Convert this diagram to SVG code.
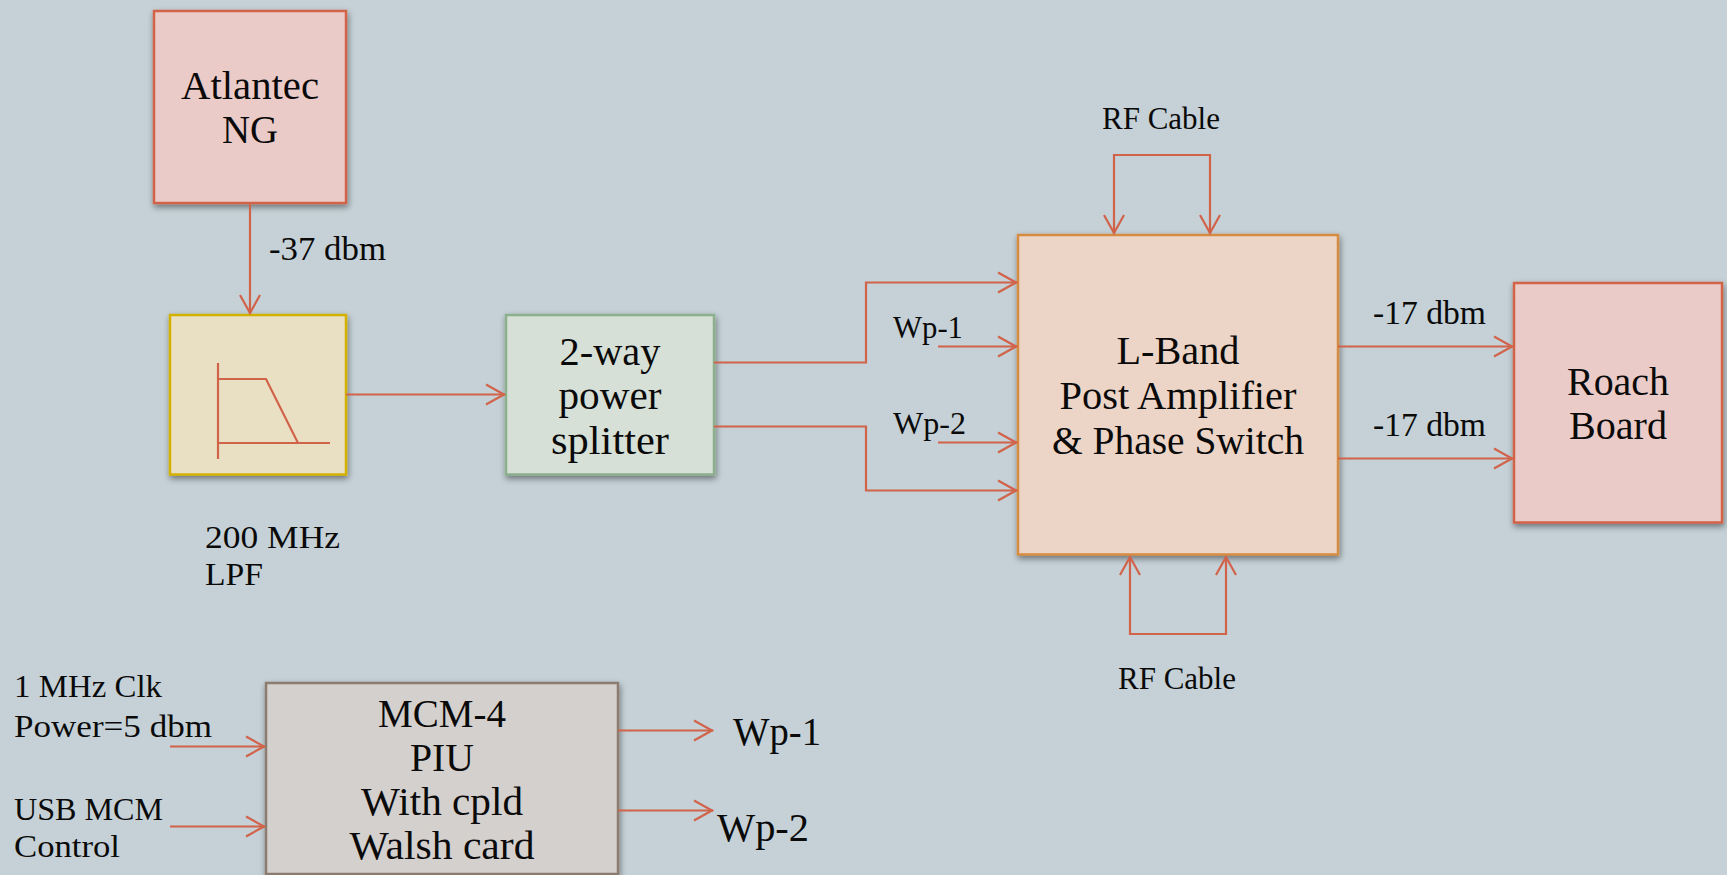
<svg xmlns="http://www.w3.org/2000/svg" width="1727" height="875" viewBox="0 0 1727 875">
<style>
text{font-family:"Liberation Serif","DejaVu Serif",serif;fill:#0a0a0a}
.n{font-size:39px;text-anchor:middle}
.m{font-size:39px}
.s{font-size:33px}
.x{font-size:31px}
.b{stroke-width:2.5;filter:url(#sh)}
.c{fill:none;stroke:#d1634a;stroke-width:2.2;marker-end:url(#a)}
.i{fill:none;stroke:#d1634a;stroke-width:2.2}
</style>
<defs>
<filter id="sh" x="-10%" y="-10%" width="125%" height="125%"><feDropShadow dx="1" dy="3" stdDeviation="3" flood-color="#000" flood-opacity=".45"/></filter>
<marker id="a" markerUnits="userSpaceOnUse" markerWidth="24" markerHeight="26" refX="20" refY="11" orient="auto" overflow="visible"><path d="M1 1L19 11L1 21" fill="none" stroke="#d1634a" stroke-width="2.2"/></marker>
</defs>
<rect id="background" width="1727" height="875" fill="#c5d1d7"/>
<g id="atlantec"><rect class="b" x="154" y="11" width="192" height="192" fill="#ebcbc8" stroke="#d1634a"/><text class="n" x="250" y="99" textLength="138" lengthAdjust="spacingAndGlyphs">Atlantec</text><text class="n" x="250" y="143" textLength="56" lengthAdjust="spacingAndGlyphs">NG</text></g>
<g id="lpf"><rect class="b" x="170" y="315" width="176" height="159.500" fill="#e9e0c3" stroke="#d2b100"/><path class="i" d="M218 363V459M218 379H266L298 443M218 443H330"/><text class="x" x="205" y="548" textLength="135" lengthAdjust="spacingAndGlyphs">200 MHz</text><text class="x" x="205" y="585" textLength="58" lengthAdjust="spacingAndGlyphs">LPF</text></g>
<g id="splitter"><rect class="b" x="506" y="315" width="208" height="159.500" fill="#d6e0d6" stroke="#8caf8c"/><text class="n" x="610" y="365" textLength="101" lengthAdjust="spacingAndGlyphs">2-way</text><text class="n" x="610" y="409" textLength="103" lengthAdjust="spacingAndGlyphs">power</text><text class="n" x="610" y="454" textLength="118" lengthAdjust="spacingAndGlyphs">splitter</text></g>
<g id="lband"><rect class="b" x="1018" y="235" width="320" height="319.500" fill="#ecd5c6" stroke="#d58b42"/><text class="n" x="1178" y="364" textLength="123" lengthAdjust="spacingAndGlyphs">L-Band</text><text class="n" x="1178" y="409" textLength="237" lengthAdjust="spacingAndGlyphs">Post Amplifier</text><text class="n" x="1178" y="454" textLength="252" lengthAdjust="spacingAndGlyphs">&amp; Phase Switch</text></g>
<g id="roach"><rect class="b" x="1514" y="283" width="208" height="239.500" fill="#ebcbc8" stroke="#d1634a"/><text class="n" x="1618" y="395" textLength="102" lengthAdjust="spacingAndGlyphs">Roach</text><text class="n" x="1618" y="439" textLength="98" lengthAdjust="spacingAndGlyphs">Board</text></g>
<g id="mcm"><rect class="b" x="266" y="683" width="352" height="191" fill="#d4d0cd" stroke="#8c7b70"/><text class="n" x="442" y="727" textLength="128" lengthAdjust="spacingAndGlyphs">MCM-4</text><text class="n" x="442" y="771" textLength="64" lengthAdjust="spacingAndGlyphs">PIU</text><text class="n" x="442" y="815" textLength="162" lengthAdjust="spacingAndGlyphs">With cpld</text><text class="n" x="442" y="859" textLength="185" lengthAdjust="spacingAndGlyphs">Walsh card</text></g>
<g id="connectors">
<path class="c" d="M250 203V314"/>
<path class="c" d="M346 394.500H505"/>
<path class="c" d="M714 362.500H866V282.500H1017"/>
<path class="c" d="M714 426.500H866V490.500H1017"/>
<path class="c" d="M938 346.500H1017"/>
<path class="c" d="M938 442.500H1017"/>
<path class="c" d="M1338 346.500H1513"/>
<path class="c" d="M1338 458.500H1513"/>
<path class="c" d="M1162 155H1114V234"/>
<path class="c" d="M1162 155H1210V234"/>
<path class="c" d="M1178 634H1130V556"/>
<path class="c" d="M1178 634H1226V556"/>
<path class="c" d="M170 746.500H265"/>
<path class="c" d="M170 826.500H265"/>
<path class="c" d="M618 730.500H713"/>
<path class="c" d="M618 810.500H713"/>
</g>
<g id="labels">
<text class="s" x="269" y="260" textLength="117" lengthAdjust="spacingAndGlyphs">-37 dbm</text>
<text class="x" x="893" y="338" textLength="70" lengthAdjust="spacingAndGlyphs">Wp-1</text>
<text class="x" x="893" y="434" textLength="73" lengthAdjust="spacingAndGlyphs">Wp-2</text>
<text class="x" x="1102" y="129" textLength="118" lengthAdjust="spacingAndGlyphs">RF Cable</text>
<text class="x" x="1118" y="689" textLength="118" lengthAdjust="spacingAndGlyphs">RF Cable</text>
<text class="s" x="1373" y="324" textLength="113" lengthAdjust="spacingAndGlyphs">-17 dbm</text>
<text class="s" x="1373" y="436" textLength="113" lengthAdjust="spacingAndGlyphs">-17 dbm</text>
<text class="x" x="14" y="697" textLength="148" lengthAdjust="spacingAndGlyphs">1 MHz Clk</text>
<text class="x" x="14" y="737" textLength="198" lengthAdjust="spacingAndGlyphs">Power=5 dbm</text>
<text class="x" x="14" y="820" textLength="149" lengthAdjust="spacingAndGlyphs">USB MCM</text>
<text class="x" x="14" y="857" textLength="106" lengthAdjust="spacingAndGlyphs">Control</text>
<text class="m" x="733" y="745" textLength="88" lengthAdjust="spacingAndGlyphs">Wp-1</text>
<text class="m" x="717" y="841" textLength="92" lengthAdjust="spacingAndGlyphs">Wp-2</text>
</g>
</svg>
